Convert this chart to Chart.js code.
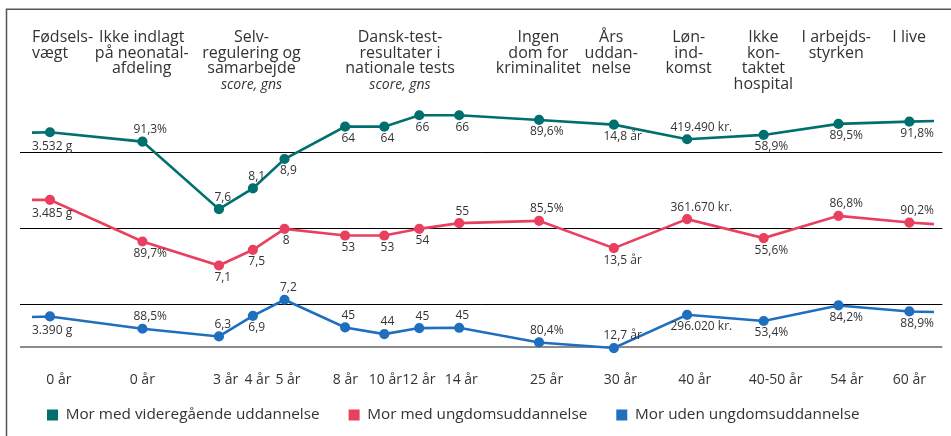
<!DOCTYPE html>
<html>
<head>
<meta charset="utf-8">
<script src="https://cdn.jsdelivr.net/npm/chart.js@4"></script>
<style>
  html, body { margin: 0; padding: 0; background: #ffffff; }
  #wrap { width: 951px; height: 436px; position: relative; }
</style>
</head>
<body>
<div id="wrap"><canvas id="c" width="951" height="436"></canvas></div>
<script>
// ---- Data ----
const seriesNames = ['Mor med videregående uddannelse', 'Mor med ungdomsuddannelse', 'Mor uden ungdomsuddannelse'];

// horizontal position of each measure on the axis (0-100)
const xPos = [3.25, 13.28, 21.57, 25.25, 28.68, 35.25, 39.50, 43.29, 47.62, 56.28, 64.39, 72.33, 80.63, 88.74, 96.43];
const xLeadIn = 1.3, xTail = 99.1;

// vertical index per series (each band: reference line at 200 / 100 / 0)
const tealValues = [227.2, 214.9, 125.9, 153.2, 192.0, 234.6, 234.6, 249.6, 249.6, 243.4, 237.2, 218.0, 223.7, 238.2, 241.2];
const redValues  = [138.2, 83.3, 51.7, 72.4, 100.0, 91.2, 91.2, 100.0, 107.5, 110.5, 74.6, 112.8, 87.8, 117.1, 108.3];
const blueValues = [-15.4, -31.6, -41.7, -14.5, 6.6, -29.9, -38.6, -30.7, -30.3, -49.6, -57.0, -13.2, -21.4, -0.9, -8.8];
const tealEnds = [226.7, 242.1];
const redEnds  = [138.2, 106.2];
const blueEnds = [-16.2, -9.6];

const tealLabels = ['3.532 g','91,3%','7,6','8,1','8,9','64','64','66','66','89,6%','14,8 år','419.490 kr.','58,9%','89,5%','91,8%'];
const redLabels  = ['3.485 g','89,7%','7,1','7,5','8','53','53','54','55','85,5%','13,5 år','361.670 kr.','55,6%','86,8%','90,2%'];
const blueLabels = ['3.390 g','88,5%','6,3','6,9','7,2','45','44','45','45','80,4%','12,7 år','296.020 kr.','53,4%','84,2%','88,9%'];
const tealPlace = ['b','a','a','a','b','b','b','b','b','b','b','a','b','b','b'];
const redPlace  = ['b','b','b','b','b','b','b','b','a','a','b','a','b','a','a'];
const bluePlace = ['b','a','a','b','a','a','a','a','a','a','a','b','b','b','b'];

// reference lines of the bands, and the bottom line
const refLines = [-55, 0, 100, 200];

// x-axis tick labels and their positions
const xTickLabels = ['0 år','0 år','3 år','4 år','5 år','8 år','10 år','12 år','14 år','25 år','30 år','40 år','40-50 år','54 år','60 år'];
const xTickPos = [4.22, 13.26, 22.29, 25.70, 29.06, 35.28, 39.61, 43.24, 47.84, 57.09, 65.10, 73.16, 81.93, 89.66, 96.43];

// column headers
const headerLines = [
  ['Fødsels-', 'vægt'],
  ['Ikke indlagt', 'på neonatal-', 'afdeling'],
  ['Selv-', 'regulering og', 'samarbejde'],
  ['Dansk-test-', 'resultater i', 'nationale tests'],
  ['Ingen', 'dom for', 'kriminalitet'],
  ['Års', 'uddan-', 'nelse'],
  ['Løn-', 'ind-', 'komst'],
  ['Ikke', 'kon-', 'taktet', 'hospital'],
  ['I arbejds-', 'styrken'],
  ['I live']
];
const headerSub = ['', '', 'score, gns', 'score, gns', '', '', '', '', '', ''];
const headerPos = [1.3, 13.2, 25.1, 41.2, 56.2, 64.1, 72.5, 80.6, 88.5, 96.4];
const headerAlign = ['left','center','center','center','center','center','center','center','center','center'];

// ---- Styles ----
const colors = ['#00706e', '#e8405e', '#1f6fbe'];
const textColor = '#333333';
const FONT = '"Open Sans", "Noto Sans", sans-serif';

function buildData(vals, ends) {
  const d = [{x: xLeadIn, y: ends[0]}];
  vals.forEach((v, i) => d.push({x: xPos[i], y: v}));
  d.push({x: xTail, y: ends[1]});
  return d;
}
const allLabels = [tealLabels, redLabels, blueLabels];
const allPlace = [tealPlace, redPlace, bluePlace];

const framePlugin = {
  id: 'frame',
  beforeDraw(chart) {
    const ctx = chart.ctx;
    ctx.save();
    ctx.strokeStyle = '#555555';
    ctx.lineWidth = 1.5;
    ctx.beginPath();
    ctx.moveTo(6.5, 436);
    ctx.lineTo(6.5, 9.25);
    ctx.lineTo(951, 9.25);
    ctx.stroke();
    ctx.restore();
  }
};

const headerPlugin = {
  id: 'headers',
  afterDraw(chart) {
    const ctx = chart.ctx;
    const xs = chart.scales.x;
    ctx.save();
    ctx.fillStyle = textColor;
    ctx.textBaseline = 'alphabetic';
    const lh = 15.6;
    const base = 42;
    headerLines.forEach((lines, i) => {
      const x = xs.getPixelForValue(headerPos[i]);
      ctx.textAlign = headerAlign[i];
      ctx.font = '16px ' + FONT;
      lines.forEach((t, j) => ctx.fillText(t, x, base + j * lh));
      if (headerSub[i]) {
        ctx.font = 'italic 14px ' + FONT;
        ctx.fillText(headerSub[i], x, base + lines.length * lh);
      }
    });
    ctx.restore();
  }
};

const labelPlugin = {
  id: 'pointLabels',
  afterDatasetsDraw(chart) {
    const ctx = chart.ctx;
    const xs = chart.scales.x;
    ctx.save();
    ctx.font = '12px ' + FONT;
    ctx.fillStyle = textColor;
    ctx.textBaseline = 'middle';
    ctx.textAlign = 'left';
    chart.data.datasets.forEach((ds, di) => {
      const meta = chart.getDatasetMeta(di);
      const labels = allLabels[di], place = allPlace[di];
      labels.forEach((t, i) => {
        const el = meta.data[i + 1];
        const w = ctx.measureText(t).width;
        const off = i === 0 ? 14 : 12;
        const y = place[i] === 'a' ? el.y - off : el.y + off;
        // first column labels start where the line starts
        const x = i === 0 ? xs.getPixelForValue(xLeadIn) : el.x - 0.27 * w;
        ctx.fillText(t, x, y);
      });
    });
    ctx.restore();
  }
};

const datasets = [
  buildData(tealValues, tealEnds),
  buildData(redValues, redEnds),
  buildData(blueValues, blueEnds)
].map((d, i) => ({
  label: seriesNames[i],
  data: d,
  borderColor: colors[i],
  backgroundColor: colors[i],
  pointBackgroundColor: colors[i],
  pointBorderColor: colors[i],
  borderWidth: 2.6,
  pointRadius: ctx => (ctx.dataIndex === 0 || ctx.dataIndex === d.length - 1) ? 0 : 3.8,
  pointHoverRadius: 0,
  tension: 0,
  clip: false
}));

new Chart(document.getElementById('c'), {
  type: 'line',
  data: { datasets },
  options: {
    responsive: false,
    animation: false,
    devicePixelRatio: 1,
    layout: { padding: { left: 18, right: 7, top: 54.2, bottom: 3.28 } },
    plugins: {
      tooltip: { enabled: false },
      legend: {
        position: 'bottom',
        align: 'start',
        labels: {
          boxWidth: 11,
          boxHeight: 11,
          padding: 29,
          color: textColor,
          font: { family: FONT, size: 15.3 },
          generateLabels(chart) {
            return Chart.defaults.plugins.legend.labels.generateLabels(chart)
              .map(l => Object.assign(l, { lineWidth: 0 }));
          }
        }
      }
    },
    scales: {
      x: {
        type: 'linear',
        position: { y: refLines[0] },
        min: 0, max: 100,
        grid: { display: false, drawTicks: false },
        border: { display: false },
        afterBuildTicks(scale) { scale.ticks = xTickPos.map(v => ({ value: v })); },
        ticks: {
          autoSkip: false,
          maxRotation: 0,
          padding: 24.8,
          color: textColor,
          font: { family: FONT, size: 14 },
          callback: (v, i) => xTickLabels[i]
        }
      },
      y: {
        type: 'linear',
        min: -97, max: 330,
        afterBuildTicks(scale) { scale.ticks = refLines.map(v => ({ value: v })); },
        afterFit(scale) { scale.width = 2; },
        ticks: { display: false },
        border: { display: false },
        grid: {
          drawTicks: false,
          color: c => c.tick && c.tick.value === refLines[0] ? '#8c8c8c' : '#000000',
          lineWidth: c => c.tick && c.tick.value === refLines[0] ? 2 : 1
        }
      }
    }
  },
  plugins: [framePlugin, headerPlugin, labelPlugin]
});
</script>
</body>
</html>
